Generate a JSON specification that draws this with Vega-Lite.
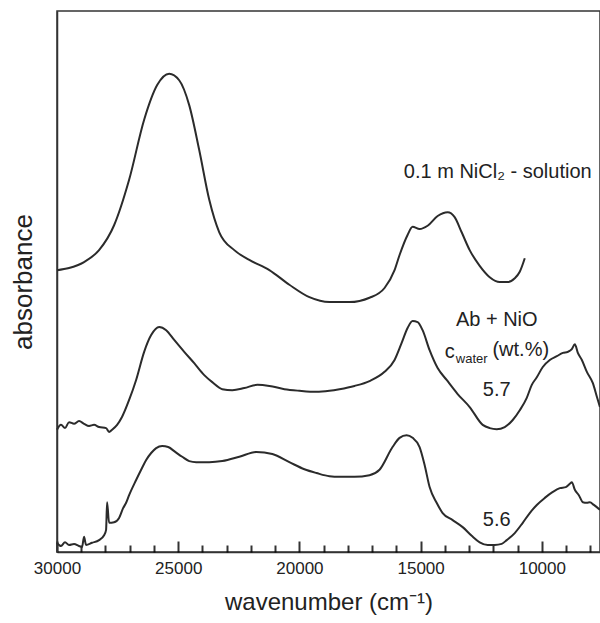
{
  "$schema": "https://vega.github.io/schema/vega-lite/v6.json",
  "width": 543,
  "height": 541,
  "autosize": "none",
  "padding": {"left": 57, "top": 11, "right": 0, "bottom": 71},
  "config": {"font": "Liberation Sans", "view": {"stroke": "#333", "strokeWidth": 1.5}, "background": "white"},
  "datasets": {
    "spectra": [
      {"s":"NiCl2","wn":30000,"a":0.521},{"s":"NiCl2","wn":29504,"a":0.525},{"s":"NiCl2","wn":28884,"a":0.536},{"s":"NiCl2","wn":28265,"a":0.558},{"s":"NiCl2","wn":27645,"a":0.604},{"s":"NiCl2","wn":27025,"a":0.688},{"s":"NiCl2","wn":26405,"a":0.799},{"s":"NiCl2","wn":25868,"a":0.863},{"s":"NiCl2","wn":25372,"a":0.884},{"s":"NiCl2","wn":24959,"a":0.872},{"s":"NiCl2","wn":24546,"a":0.826},{"s":"NiCl2","wn":24133,"a":0.743},{"s":"NiCl2","wn":23719,"a":0.651},{"s":"NiCl2","wn":23306,"a":0.591},{"s":"NiCl2","wn":22686,"a":0.558},{"s":"NiCl2","wn":22067,"a":0.540},{"s":"NiCl2","wn":21240,"a":0.521},{"s":"NiCl2","wn":20414,"a":0.494},{"s":"NiCl2","wn":19587,"a":0.471},{"s":"NiCl2","wn":18761,"a":0.462},{"s":"NiCl2","wn":17934,"a":0.462},{"s":"NiCl2","wn":17108,"a":0.470},{"s":"NiCl2","wn":16488,"a":0.488},{"s":"NiCl2","wn":16075,"a":0.521},{"s":"NiCl2","wn":15868,"a":0.549},{"s":"NiCl2","wn":15538,"a":0.586},{"s":"NiCl2","wn":15331,"a":0.601},{"s":"NiCl2","wn":15042,"a":0.597},{"s":"NiCl2","wn":14711,"a":0.603},{"s":"NiCl2","wn":14298,"a":0.621},{"s":"NiCl2","wn":13885,"a":0.628},{"s":"NiCl2","wn":13596,"a":0.619},{"s":"NiCl2","wn":13307,"a":0.591},{"s":"NiCl2","wn":12976,"a":0.558},{"s":"NiCl2","wn":12563,"a":0.529},{"s":"NiCl2","wn":12150,"a":0.508},{"s":"NiCl2","wn":11737,"a":0.499},{"s":"NiCl2","wn":11406,"a":0.499},{"s":"NiCl2","wn":11116,"a":0.506},{"s":"NiCl2","wn":10910,"a":0.518},{"s":"NiCl2","wn":10703,"a":0.543},

      {"s":"5.7","wn":30000,"a":0.226},{"s":"5.7","wn":29835,"a":0.235},{"s":"5.7","wn":29669,"a":0.229},{"s":"5.7","wn":29504,"a":0.240},{"s":"5.7","wn":29298,"a":0.237},{"s":"5.7","wn":29091,"a":0.242},{"s":"5.7","wn":28884,"a":0.237},{"s":"5.7","wn":28678,"a":0.233},{"s":"5.7","wn":28471,"a":0.235},{"s":"5.7","wn":28265,"a":0.231},{"s":"5.7","wn":27975,"a":0.229},{"s":"5.7","wn":27851,"a":0.222},{"s":"5.7","wn":27727,"a":0.226},{"s":"5.7","wn":27521,"a":0.235},{"s":"5.7","wn":27314,"a":0.250},{"s":"5.7","wn":27025,"a":0.281},{"s":"5.7","wn":26736,"a":0.318},{"s":"5.7","wn":26405,"a":0.370},{"s":"5.7","wn":26116,"a":0.401},{"s":"5.7","wn":25785,"a":0.416},{"s":"5.7","wn":25496,"a":0.410},{"s":"5.7","wn":25165,"a":0.392},{"s":"5.7","wn":24752,"a":0.370},{"s":"5.7","wn":24339,"a":0.349},{"s":"5.7","wn":23926,"a":0.327},{"s":"5.7","wn":23595,"a":0.314},{"s":"5.7","wn":23182,"a":0.301},{"s":"5.7","wn":22769,"a":0.299},{"s":"5.7","wn":22273,"a":0.303},{"s":"5.7","wn":21736,"a":0.309},{"s":"5.7","wn":21240,"a":0.307},{"s":"5.7","wn":20620,"a":0.301},{"s":"5.7","wn":20001,"a":0.298},{"s":"5.7","wn":19298,"a":0.296},{"s":"5.7","wn":18761,"a":0.298},{"s":"5.7","wn":18348,"a":0.301},{"s":"5.7","wn":17728,"a":0.307},{"s":"5.7","wn":17108,"a":0.316},{"s":"5.7","wn":16488,"a":0.333},{"s":"5.7","wn":16075,"a":0.355},{"s":"5.7","wn":15786,"a":0.386},{"s":"5.7","wn":15538,"a":0.414},{"s":"5.7","wn":15331,"a":0.427},{"s":"5.7","wn":15124,"a":0.425},{"s":"5.7","wn":14918,"a":0.410},{"s":"5.7","wn":14629,"a":0.373},{"s":"5.7","wn":14298,"a":0.340},{"s":"5.7","wn":13926,"a":0.318},{"s":"5.7","wn":13472,"a":0.292},{"s":"5.7","wn":12976,"a":0.268},{"s":"5.7","wn":12439,"a":0.235},{"s":"5.7","wn":12150,"a":0.229},{"s":"5.7","wn":11861,"a":0.227},{"s":"5.7","wn":11530,"a":0.231},{"s":"5.7","wn":11199,"a":0.244},{"s":"5.7","wn":10910,"a":0.262},{"s":"5.7","wn":10621,"a":0.285},{"s":"5.7","wn":10414,"a":0.309},{"s":"5.7","wn":10207,"a":0.323},{"s":"5.7","wn":9960,"a":0.342},{"s":"5.7","wn":9671,"a":0.355},{"s":"5.7","wn":9381,"a":0.362},{"s":"5.7","wn":9134,"a":0.368},{"s":"5.7","wn":8927,"a":0.370},{"s":"5.7","wn":8762,"a":0.375},{"s":"5.7","wn":8638,"a":0.384},{"s":"5.7","wn":8514,"a":0.368},{"s":"5.7","wn":8348,"a":0.355},{"s":"5.7","wn":8142,"a":0.333},{"s":"5.7","wn":7894,"a":0.312},{"s":"5.7","wn":7729,"a":0.287},{"s":"5.7","wn":7603,"a":0.268},

      {"s":"5.6","wn":30000,"a":0.017},{"s":"5.6","wn":29835,"a":0.011},{"s":"5.6","wn":29669,"a":0.018},{"s":"5.6","wn":29504,"a":0.013},{"s":"5.6","wn":29298,"a":0.015},{"s":"5.6","wn":29091,"a":0.011},{"s":"5.6","wn":28967,"a":0.009},{"s":"5.6","wn":28884,"a":0.028},{"s":"5.6","wn":28802,"a":0.013},{"s":"5.6","wn":28554,"a":0.017},{"s":"5.6","wn":28265,"a":0.022},{"s":"5.6","wn":28058,"a":0.031},{"s":"5.6","wn":27975,"a":0.041},{"s":"5.6","wn":27934,"a":0.092},{"s":"5.6","wn":27851,"a":0.054},{"s":"5.6","wn":27645,"a":0.055},{"s":"5.6","wn":27438,"a":0.063},{"s":"5.6","wn":27273,"a":0.081},{"s":"5.6","wn":27149,"a":0.091},{"s":"5.6","wn":27025,"a":0.105},{"s":"5.6","wn":26736,"a":0.133},{"s":"5.6","wn":26529,"a":0.152},{"s":"5.6","wn":26322,"a":0.170},{"s":"5.6","wn":26116,"a":0.183},{"s":"5.6","wn":25909,"a":0.192},{"s":"5.6","wn":25661,"a":0.196},{"s":"5.6","wn":25413,"a":0.194},{"s":"5.6","wn":25124,"a":0.185},{"s":"5.6","wn":24835,"a":0.176},{"s":"5.6","wn":24546,"a":0.168},{"s":"5.6","wn":24257,"a":0.166},{"s":"5.6","wn":23719,"a":0.166},{"s":"5.6","wn":23182,"a":0.168},{"s":"5.6","wn":22480,"a":0.176},{"s":"5.6","wn":21777,"a":0.185},{"s":"5.6","wn":21116,"a":0.181},{"s":"5.6","wn":20414,"a":0.166},{"s":"5.6","wn":19794,"a":0.153},{"s":"5.6","wn":19298,"a":0.146},{"s":"5.6","wn":18761,"a":0.140},{"s":"5.6","wn":18348,"a":0.139},{"s":"5.6","wn":17728,"a":0.139},{"s":"5.6","wn":17108,"a":0.142},{"s":"5.6","wn":16695,"a":0.152},{"s":"5.6","wn":16158,"a":0.194},{"s":"5.6","wn":15868,"a":0.211},{"s":"5.6","wn":15579,"a":0.216},{"s":"5.6","wn":15331,"a":0.211},{"s":"5.6","wn":15042,"a":0.194},{"s":"5.6","wn":14835,"a":0.161},{"s":"5.6","wn":14629,"a":0.120},{"s":"5.6","wn":14339,"a":0.091},{"s":"5.6","wn":14091,"a":0.072},{"s":"5.6","wn":13678,"a":0.059},{"s":"5.6","wn":13265,"a":0.046},{"s":"5.6","wn":12893,"a":0.030},{"s":"5.6","wn":12563,"a":0.018},{"s":"5.6","wn":12232,"a":0.013},{"s":"5.6","wn":11943,"a":0.013},{"s":"5.6","wn":11654,"a":0.015},{"s":"5.6","wn":11447,"a":0.022},{"s":"5.6","wn":11116,"a":0.035},{"s":"5.6","wn":10786,"a":0.054},{"s":"5.6","wn":10497,"a":0.072},{"s":"5.6","wn":10207,"a":0.087},{"s":"5.6","wn":9877,"a":0.100},{"s":"5.6","wn":9546,"a":0.111},{"s":"5.6","wn":9257,"a":0.118},{"s":"5.6","wn":9010,"a":0.120},{"s":"5.6","wn":8844,"a":0.126},{"s":"5.6","wn":8762,"a":0.129},{"s":"5.6","wn":8638,"a":0.115},{"s":"5.6","wn":8473,"a":0.105},{"s":"5.6","wn":8307,"a":0.092},{"s":"5.6","wn":8142,"a":0.091},{"s":"5.6","wn":8018,"a":0.092},{"s":"5.6","wn":7853,"a":0.087},{"s":"5.6","wn":7603,"a":0.078}
    ],
    "labels": [
      {"wn":11818,"a":0.702,"t":"0.1 m NiCl₂ - solution"},
      {"wn":11860,"a":0.429,"t":"Ab + NiO"},
      {"wn":13803,"a":0.370,"t":"c"},
      {"wn":10869,"a":0.373,"t":"(wt.%)"},
      {"wn":11860,"a":0.299,"t":"5.7"},
      {"wn":11860,"a":0.059,"t":"5.6"}
    ],
    "sublabels": [
      {"wn":12893,"a":0.357,"t":"water"}
    ]
  },
  "resolve": {"axis": {"x": "independent"}},
  "layer": [
    {
      "data": {"name": "spectra"},
      "mark": {"type": "line", "stroke": "#2b2b2b", "strokeWidth": 2, "strokeJoin": "round", "interpolate": "monotone"},
      "encoding": {
        "x": {
          "field": "wn", "type": "quantitative",
          "scale": {"domain": [30000, 7600], "nice": false, "zero": false},
          "axis": {
            "orient": "bottom",
            "title": "wavenumber (cm⁻¹)",
            "titleFontSize": 24, "titleFontWeight": "normal", "titleColor": "#222", "titlePadding": 14,
            "values": [30000, 25000, 20000, 15000, 10000],
            "format": "d",
            "labelFontSize": 17, "labelColor": "#222", "labelPadding": 8,
            "ticks": false,
            "domainColor": "#333", "domainWidth": 1.5,
            "grid": false, "labelFlush": false, "labelOverlap": false
          }
        },
        "y": {
          "field": "a", "type": "quantitative",
          "scale": {"domain": [0, 1], "nice": false},
          "axis": {
            "title": "absorbance", "titleFontSize": 26, "titleFontWeight": "normal", "titleColor": "#222",
            "titlePadding": 16, "tickSize": 1, "tickOpacity": 0, "labelFontSize": 1, "labelOpacity": 0,
            "values": [0], "grid": false,
            "domainColor": "#333", "domainWidth": 1.5
          }
        },
        "detail": {"field": "s"}
      }
    },
    {
      "data": {"name": "labels"},
      "mark": {"type": "text", "fontSize": 20, "color": "#222", "align": "center", "baseline": "middle"},
      "encoding": {
        "x": {
          "field": "wn", "type": "quantitative",
          "scale": {"domain": [30000, 7600], "nice": false, "zero": false},
          "axis": {
            "orient": "top", "offset": -541,
            "title": null,
            "values": [30000, 25000, 20000, 15000, 10000],
            "labels": false, "domain": false, "grid": false,
            "tickSize": 11, "tickColor": "black", "tickOpacity": 0.8, "tickWidth": 2
          }
        },
        "y": {"field": "a", "type": "quantitative", "scale": {"domain": [0, 1], "nice": false}},
        "text": {"field": "t"}
      }
    },
    {
      "data": {"name": "sublabels"},
      "mark": {"type": "text", "fontSize": 13, "color": "#222", "align": "center", "baseline": "middle"},
      "encoding": {
        "x": {
          "field": "wn", "type": "quantitative",
          "scale": {"domain": [30000, 7600], "nice": false, "zero": false},
          "axis": {
            "orient": "top", "offset": -541,
            "title": null,
            "values": [29000,28000,27000,26000,24000,23000,22000,21000,19000,18000,17000,16000,14000,13000,12000,11000,9000,8000],
            "labels": false, "domain": false, "grid": false,
            "tickSize": 7, "tickColor": "black", "tickOpacity": 0.8, "tickWidth": 2
          }
        },
        "y": {"field": "a", "type": "quantitative", "scale": {"domain": [0, 1], "nice": false}},
        "text": {"field": "t"}
      }
    }
  ]
}
